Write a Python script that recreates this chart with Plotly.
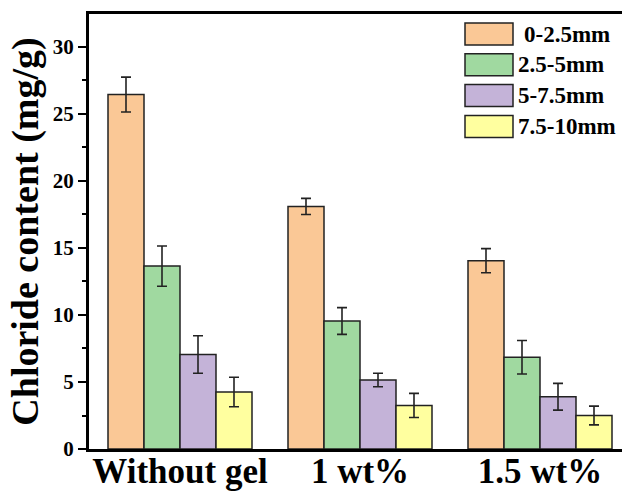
import plotly.graph_objects as go

categories = ["Without gel", "1 wt%", "1.5 wt%"]
series_names = ["0-2.5mm", "2.5-5mm", "5-7.5mm", "7.5-10mm"]
vals_0_25 = [26.45, 18.1, 14.05]
vals_25_5 = [13.65, 9.55, 6.85]
vals_5_75 = [7.05, 5.15, 3.9]
vals_75_10 = [4.25, 3.25, 2.5]
err_0_25 = [1.3, 0.6, 0.9]
err_25_5 = [1.5, 1.0, 1.25]
err_5_75 = [1.4, 0.5, 1.0]
err_75_10 = [1.1, 0.9, 0.7]
y_ticks = [0, 5, 10, 15, 20, 25, 30]

colors = ["#FAC896", "#A0D9A0", "#C4B3D8", "#FFFF9F"]
values = [vals_0_25, vals_25_5, vals_5_75, vals_75_10]
errors = [err_0_25, err_25_5, err_5_75, err_75_10]

W, H = 622, 492
L, R, T, B = 89, 0, 14, 43
FONT = "Liberation Serif"

fig = go.Figure()
for name, v, e, c in zip(series_names, values, errors, colors):
    fig.add_trace(go.Bar(
        x=list(range(len(categories))), y=v, name=name,
        marker=dict(color=c, line=dict(color="#222222", width=1.5)),
        error_y=dict(type="data", array=e, color="#222222", thickness=1.6, width=5),
        showlegend=False,
    ))

# manual legend (large swatches)
pw, ph = W - L - R, H - T - B
def px_x(p):
    return (p - L) / pw
def px_y(p):
    return (H - B - p) / ph

row0, pitch = 34, 30.8
for i, (name, c) in enumerate(zip(series_names, colors)):
    cy = row0 + i * pitch
    fig.add_shape(type="rect", xref="paper", yref="paper",
                  x0=px_x(465), x1=px_x(513), y0=px_y(cy + 11), y1=px_y(cy - 11),
                  fillcolor=c, line=dict(color="#222222", width=1.5))
    fig.add_annotation(xref="paper", yref="paper", x=px_x(516 + (6 if i == 0 else 0)), y=px_y(cy),
                       text=name, showarrow=False, xanchor="left", yanchor="middle",
                       font=dict(family=FONT, size=23, color="black", weight="bold"))

fig.update_layout(
    width=W, height=H,
    margin=dict(l=L, r=R, t=T, b=B, pad=0, autoexpand=False),
    plot_bgcolor="white", paper_bgcolor="white",
    barmode="group", bargap=0.2, bargroupgap=0,
    font=dict(family=FONT, color="black"),
)
fig.update_xaxes(
    range=[-(180 - L) / 180, (W - R - 180) / 180],
    tickmode="array", tickvals=list(range(len(categories))), ticktext=categories,
    tickfont=dict(family=FONT, size=35, color="black", weight="bold"),
    ticklabelstandoff=-11,
    showline=True, linecolor="black", linewidth=3, mirror=True,
    ticks="", showgrid=False, zeroline=False, automargin=False,
)
fig.update_yaxes(
    range=[0, 32.46],
    tickmode="array", tickvals=y_ticks,
    tickfont=dict(family=FONT, size=21, color="black", weight="bold"),
    showline=True, linecolor="black", linewidth=3,
    ticks="outside", ticklen=8, tickwidth=2, tickcolor="black",
    minor=dict(dtick=2.5, tick0=0, ticks="outside", ticklen=4, tickwidth=2, tickcolor="black", showgrid=False),
    showgrid=False, zeroline=False, automargin=False,
    title=dict(text="Chloride content (mg/g)", standoff=3,
               font=dict(family=FONT, size=38, color="black", weight="bold")),
)

fig.write_html("out.html")
